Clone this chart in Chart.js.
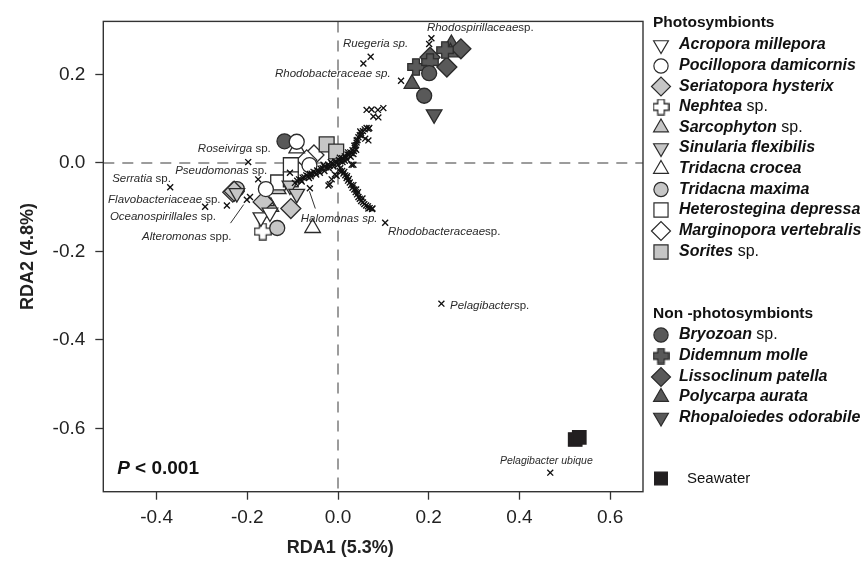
<!DOCTYPE html>
<html><head><meta charset="utf-8">
<script src="https://cdn.jsdelivr.net/npm/chart.js@4"></script>
<style>html,body{margin:0;padding:0;background:#fff;}#wrap{width:863px;height:562px;position:relative;}</style>
</head><body><div id="wrap"><canvas id="c" width="863" height="562"></canvas></div>
<script>
// ---------------- DATA ----------------
const xTicks = [-0.4, -0.2, 0.0, 0.2, 0.4, 0.6];
const yTicks = [-0.6, -0.4, -0.2, 0.0, 0.2];
const xTitle = 'RDA1 (5.3%)';
const yTitle = 'RDA2 (4.8%)';

// Photosymbiont samples [RDA1, RDA2]
const acropora = [[-0.170,-0.123],[-0.150,-0.112]];
const pocillopora = [[-0.091,0.048],[-0.063,-0.005],[-0.159,-0.059]];
const seriatopora = [[-0.229,-0.064],[-0.165,-0.088],[-0.104,-0.103]];
const nephtea = [[-0.166,-0.155]];
const sarcophyton = [[-0.132,-0.059],[-0.148,-0.099],[-0.158,-0.086]];
const sinularia = [[-0.106,-0.051],[-0.091,-0.070],[-0.223,-0.068]];
const tridacnaCrocea = [[-0.056,-0.147],[-0.091,0.033]];
const tridacnaMaxima = [[-0.134,-0.147],[-0.223,-0.059]];
const heterostegina = [[-0.104,-0.005],[-0.132,-0.044],[-0.104,-0.037]];
const marginopora = [[-0.053,0.018],[-0.069,0.007],[-0.232,-0.066]];
const sorites = [[-0.025,0.042],[-0.004,0.026]];
// Non-photosymbiont samples
const bryozoan = [[0.201,0.203],[0.190,0.152],[-0.118,0.049]];
const didemnum = [[0.172,0.217],[0.203,0.228],[0.236,0.255]];
const lissoclinum = [[0.271,0.258],[0.240,0.217],[0.203,0.239]];
const polycarpa = [[0.163,0.179],[0.250,0.269],[0.248,0.250]];
const rhopaloiedes = [[0.212,0.110]];
const seawater = [[0.523,-0.625],[0.532,-0.620]];

// Bacterial taxa (x marks)
const taxaArmNE = [[-0.095,-0.045],[-0.090,-0.040],[-0.086,-0.037],[-0.082,-0.038],[-0.078,-0.033],[-0.074,-0.032],
 [-0.070,-0.028],[-0.066,-0.030],[-0.062,-0.025],[-0.058,-0.024],[-0.054,-0.020],[-0.050,-0.022],[-0.046,-0.017],
 [-0.042,-0.018],[-0.038,-0.013],[-0.034,-0.012],[-0.030,-0.008],[-0.026,-0.010],[-0.022,-0.004],[-0.018,-0.006],
 [-0.014,-0.001],[-0.010,-0.002],[-0.006,0.003],[-0.002,0.001],[0.002,0.007],[0.005,0.004],[0.009,0.011],[0.012,0.009],
 [0.015,0.015],[0.018,0.013],[0.021,0.019],[0.024,0.018],[0.027,0.024],[0.030,0.022],[0.032,0.029],[0.035,0.027],
 [0.037,0.034],[0.039,0.040],[0.041,0.046],[0.043,0.052],[0.045,0.058],[0.048,0.063],[0.051,0.068],[0.055,0.072],
 [0.059,0.076],[0.063,0.079],[-0.060,-0.030],[-0.040,-0.022],[-0.020,-0.012],[0.000,-0.004],[0.010,0.002],
 [0.020,0.008],[0.028,0.014],[-0.030,-0.018],[-0.010,-0.008],[0.015,0.005],[0.034,0.020],[0.040,0.030],
 [-0.080,-0.042],[-0.064,-0.034],[-0.048,-0.026],[-0.032,-0.004],[-0.016,0.002],[0.004,0.012],[0.022,0.024],[0.036,0.039]];
const taxaArmSE = [[0.005,-0.012],[0.009,-0.018],[0.012,-0.024],[0.016,-0.028],[0.019,-0.034],[0.022,-0.040],
 [0.026,-0.044],[0.029,-0.050],[0.032,-0.056],[0.036,-0.060],[0.039,-0.066],[0.042,-0.071],[0.045,-0.077],
 [0.048,-0.081],[0.051,-0.086],[0.055,-0.089],[0.058,-0.093],[0.062,-0.096],[0.066,-0.098],[0.070,-0.102],
 [0.075,-0.104],[0.014,-0.020],[0.024,-0.036],[0.034,-0.050],[0.044,-0.066],[0.054,-0.080],[0.020,-0.030],
 [0.040,-0.060],[0.067,-0.103],[0.076,-0.103],[0.004,-0.018]];
const taxaScatter = [[0.060,0.055],[0.067,0.077],[0.049,0.071],[0.030,-0.004],[0.041,0.051],[0.063,0.120],
 [0.074,0.121],[0.088,0.120],[0.100,0.124],[0.078,0.105],[0.089,0.103],[0.069,0.079],[0.067,0.051],[0.052,0.062],
 [0.034,-0.004],[-0.021,-0.051],[-0.014,-0.037],[-0.007,-0.026],[-0.003,-0.029],[-0.018,-0.048],[-0.106,-0.022],
 [-0.194,-0.077],[-0.201,-0.083]];
const taxaLabelled = [[0.056,0.225],[0.072,0.240],[0.139,0.186],[0.201,0.269],[0.206,0.282],[-0.198,0.002],
 [-0.176,-0.037],[-0.370,-0.055],[-0.245,-0.096],[-0.293,-0.099],[-0.062,-0.057],[0.104,-0.135],[0.228,-0.318],
 [0.468,-0.700]];

// Taxon labels: [italic part, upright part, RDA1, RDA2] (left-anchored, vertically centred)
const taxonLabels = [
 ['Rhodospirillaceae','sp.',0.196,0.305],
 ['Ruegeria sp.','',0.011,0.269],
 ['Rhodobacteraceae sp.','',-0.139,0.201],
 ['Roseivirga',' sp.',-0.309,0.033],
 ['Pseudomonas',' sp.',-0.359,-0.018],
 ['Serratia',' sp.',-0.498,-0.035],
 ['Flavobacteriaceae',' sp.',-0.507,-0.084],
 ['Oceanospirillales',' sp.',-0.503,-0.121],
 ['Alteromonas',' spp.',-0.432,-0.166],
 ['Halomonas sp.','',-0.082,-0.126],
 ['Rhodobacteraceae','sp.',0.110,-0.155],
 ['Pelagibacter','sp.',0.247,-0.322],
 ['Pelagibacter ubique','',0.357,-0.673]
];
const pointerLines = [[-0.237,-0.136,-0.208,-0.094],[-0.063,-0.064,-0.050,-0.103]];
const statText = ['P',' < 0.001',-0.487,-0.691];

// ---------------- STYLES ----------------
const WHITE='#ffffff', GRAY='#c6c6c6', DARK='#595959', LINE='#2b2b2b';
function plusImage(size, fill){
  const c=document.createElement('canvas'); c.width=c.height=size;
  const g=c.getContext('2d'); const a=size/2, t=size*0.19, m=0.8, e=size-m;
  g.beginPath();
  g.moveTo(a-t,m);g.lineTo(a+t,m);g.lineTo(a+t,a-t);g.lineTo(e,a-t);g.lineTo(e,a+t);g.lineTo(a+t,a+t);
  g.lineTo(a+t,e);g.lineTo(a-t,e);g.lineTo(a-t,a+t);g.lineTo(m,a+t);g.lineTo(m,a-t);g.lineTo(a-t,a-t);g.closePath();
  g.fillStyle=fill; g.fill(); g.lineWidth=1.3; g.strokeStyle=LINE; g.stroke();
  return c;
}
const plusWhite=plusImage(18,WHITE), plusDark=plusImage(18,DARK);
const plusWhiteL=plusImage(17,WHITE), plusDarkL=plusImage(17,DARK);

const species = [
 {name:'Acropora millepora', d:acropora, ps:'triangle', r:9, rot:180, fill:WHITE, grp:1},
 {name:'Pocillopora damicornis', d:pocillopora, ps:'circle', r:7.5, rot:0, fill:WHITE, grp:1},
 {name:'Seriatopora hysterix', d:seriatopora, ps:'rectRot', r:10, rot:0, fill:GRAY, grp:1},
 {name:'Nephtea sp.', d:nephtea, ps:plusWhite, lps:plusWhiteL, r:9, rot:0, fill:WHITE, grp:1},
 {name:'Sarcophyton sp.', d:sarcophyton, ps:'triangle', r:9, rot:0, fill:GRAY, grp:1},
 {name:'Sinularia flexibilis', d:sinularia, ps:'triangle', r:9, rot:180, fill:GRAY, grp:1},
 {name:'Tridacna crocea', d:tridacnaCrocea, ps:'triangle', r:9, rot:0, fill:WHITE, grp:1},
 {name:'Tridacna maxima', d:tridacnaMaxima, ps:'circle', r:7.5, rot:0, fill:GRAY, grp:1},
 {name:'Heterostegina depressa', d:heterostegina, ps:'rect', r:10.5, rot:0, fill:WHITE, grp:1},
 {name:'Marginopora vertebralis', d:marginopora, ps:'rectRot', r:10, rot:0, fill:WHITE, grp:1},
 {name:'Sorites sp.', d:sorites, ps:'rect', r:10.5, rot:0, fill:GRAY, grp:1},
 {name:'Bryozoan sp.', d:bryozoan, ps:'circle', r:7.5, rot:0, fill:DARK, grp:2},
 {name:'Didemnum molle', d:didemnum, ps:plusDark, lps:plusDarkL, r:9, rot:0, fill:DARK, grp:2},
 {name:'Lissoclinum patella', d:lissoclinum, ps:'rectRot', r:10, rot:0, fill:DARK, grp:2},
 {name:'Polycarpa aurata', d:polycarpa, ps:'triangle', r:9, rot:0, fill:DARK, grp:2},
 {name:'Rhopaloiedes odorabile', d:rhopaloiedes, ps:'triangle', r:9, rot:180, fill:DARK, grp:2},
 {name:'Seawater', d:seawater, ps:'rect', r:9.5, rot:0, fill:'#221f20', grp:3}
];
const toXY = a => a.map(p => ({x:p[0], y:p[1]}));

const datasets = [];
[taxaArmNE, taxaArmSE, taxaScatter, taxaLabelled].forEach((arr,i)=>{
  datasets.push({label:'taxa'+i, data:toXY(arr), pointStyle:'crossRot', pointRadius:4.2,
    borderColor:'#111', backgroundColor:'#111', pointBorderWidth:1.35, order:0});
});
species.forEach((s,i)=>{
  datasets.push({label:s.name, data:toXY(s.d), pointStyle:s.ps, pointRadius:s.r, pointRotation:s.rot,
    backgroundColor:s.fill, borderColor: s.grp===3 ? '#221f20' : LINE, pointBorderWidth:1.3, order: 1 + (i%5)});
});

const FONT = '"Liberation Sans", Arial, Helvetica, sans-serif';

function drawRich(ctx, segs, x, y, align){
  ctx.textBaseline='middle'; ctx.textAlign='left';
  let w=0; segs.forEach(s=>{ ctx.font=s.f; w+=ctx.measureText(s.t).width; });
  let cx = align==='center' ? x - w/2 : x;
  segs.forEach(s=>{ ctx.font=s.f; ctx.fillText(s.t, cx, y); cx += ctx.measureText(s.t).width; });
}

const extras = {
  id:'extras',
  beforeDatasetsDraw(chart){
    const {ctx, chartArea:ca, scales:{x,y}} = chart;
    ctx.save();
    ctx.strokeStyle='#9c9c9c'; ctx.lineWidth=2; ctx.setLineDash([11,8]);
    const x0=x.getPixelForValue(0), y0=y.getPixelForValue(0);
    ctx.beginPath(); ctx.moveTo(x0, ca.top); ctx.lineTo(x0, ca.bottom); ctx.stroke();
    ctx.beginPath(); ctx.moveTo(ca.left, y0); ctx.lineTo(ca.right, y0); ctx.stroke();
    ctx.restore();
  },
  afterDatasetsDraw(chart){
    const {ctx, chartArea:ca, scales:{x,y}} = chart;
    ctx.save();
    // pointer lines
    ctx.strokeStyle='#333'; ctx.lineWidth=1;
    pointerLines.forEach(l=>{ ctx.beginPath(); ctx.moveTo(x.getPixelForValue(l[0]), y.getPixelForValue(l[1]));
      ctx.lineTo(x.getPixelForValue(l[2]), y.getPixelForValue(l[3])); ctx.stroke(); });
    // taxon labels
    ctx.fillStyle='#2a2a2a';
    taxonLabels.forEach(l=>{
      const sz = l[0]==='Pelagibacter ubique' ? 10.5 : 11.5;
      drawRich(ctx, [{t:l[0], f:'italic '+sz+'px '+FONT},{t:l[1], f:sz+'px '+FONT}],
        x.getPixelForValue(l[2]), y.getPixelForValue(l[3]));
    });
    // P value
    ctx.fillStyle='#111';
    drawRich(ctx, [{t:statText[0], f:'italic bold 19px '+FONT},{t:statText[1], f:'bold 19px '+FONT}],
      x.getPixelForValue(statText[2]), y.getPixelForValue(statText[3]));
    // x axis title (centred under the origin region as in the original)
    ctx.fillStyle='#222';
    drawRich(ctx, [{t:xTitle, f:'bold 18px '+FONT}], x.getPixelForValue(0.005), 548, 'center');
    // frame
    ctx.strokeStyle='#333'; ctx.lineWidth=1.4; ctx.setLineDash([]);
    ctx.strokeRect(ca.left, ca.top, ca.right-ca.left, ca.bottom-ca.top);
    // legend
    const sx=661, tx=679;
    ctx.fillStyle='#111';
    drawRich(ctx, [{t:'Photosymbionts', f:'bold 15.5px '+FONT}], 653, 22.5);
    drawRich(ctx, [{t:'Non -photosymbionts', f:'bold 15.5px '+FONT}], 653, 313.5);
    const rowsA=[45,66,86.5,107,127.5,148,169,189.5,210,231,252];
    const rowsB=[335,356,377,397,417.5];
    let ia=0, ib=0;
    species.forEach(s=>{
      let ry;
      if(s.grp===1) ry=rowsA[ia++]; else if(s.grp===2) ry=rowsB[ib++]; else ry=478.5;
      ctx.save();
      ctx.fillStyle=s.fill; ctx.strokeStyle= s.grp===3 ? '#221f20' : LINE; ctx.lineWidth=1.2;
      Chart.helpers.drawPoint(ctx, {pointStyle: s.lps || s.ps, radius: s.r*0.95, rotation:s.rot, borderWidth:1.2}, sx, ry);
      ctx.restore();
      ctx.fillStyle='#111';
      if(s.grp===3){ drawRich(ctx,[{t:s.name, f:'15px '+FONT}], 687, ry); }
      else {
        const m = s.name.match(/^(.*?)( sp\.)$/);
        const segs = m ? [{t:m[1], f:'italic bold 16px '+FONT},{t:m[2], f:'16px '+FONT}]
                       : [{t:s.name, f:'italic bold 16px '+FONT}];
        drawRich(ctx, segs, tx, ry);
      }
    });
    ctx.restore();
  }
};

const tickFmt = v => { const n = Math.round(v*10)/10; return (n===0?0:n).toFixed(1); };

new Chart(document.getElementById('c'), {
  type:'scatter',
  data:{datasets},
  options:{
    responsive:false, animation:false, devicePixelRatio:1, events:[],
    layout:{padding:{top:10, right:220, left:0, bottom:0}},
    plugins:{legend:{display:false}, tooltip:{enabled:false}},
    scales:{
      x:{type:'linear', min:-0.5175, max:0.6725,
        afterBuildTicks:s=>{s.ticks=xTicks.map(v=>({value:v}));},
        afterFit:s=>{s.height=70.3;},
        border:{display:false},
        grid:{drawOnChartArea:false, drawTicks:true, tickLength:8, tickColor:'#333', tickWidth:1.3},
        ticks:{autoSkip:false, maxRotation:0, padding:7, color:'#222', font:{size:19, family:FONT}, callback:tickFmt},
        title:{display:false}
      },
      y:{type:'linear', min:-0.743, max:0.32,
        afterBuildTicks:s=>{s.ticks=yTicks.map(v=>({value:v}));},
        afterFit:s=>{s.width=103.3;},
        border:{display:false},
        grid:{drawOnChartArea:false, drawTicks:true, tickLength:8, tickColor:'#333', tickWidth:1.3},
        ticks:{autoSkip:false, padding:10, color:'#222', font:{size:19, family:FONT}, callback:tickFmt},
        title:{display:true, text:yTitle, color:'#222', font:{size:18, weight:'bold', family:FONT}, padding:{top:17,bottom:0}}
      }
    }
  },
  plugins:[extras]
});
</script></body></html>
